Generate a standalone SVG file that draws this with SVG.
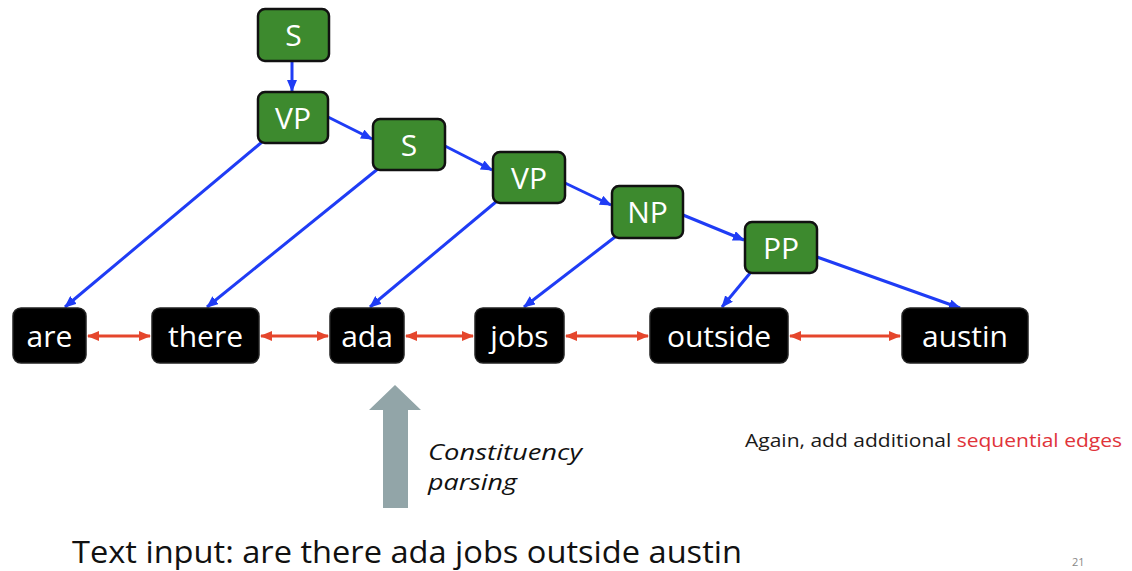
<svg xmlns="http://www.w3.org/2000/svg" width="1132" height="571" viewBox="0 0 1132 571">
  <style>
    .phrase { fill: #3d8a2e; stroke: #111; stroke-width: 2.5; }
    .word { fill: #000; stroke: #222; stroke-width: 1.5; }
    .lbl { font-family: "Open Sans", "Liberation Sans", sans-serif; font-size: 30px; fill: #fff; text-anchor: middle; }
    .tree { stroke: #1f3cf5; stroke-width: 3; fill: none; marker-end: url(#blueHead); }
    .seq { stroke: #e5462c; stroke-width: 3; fill: none; marker-start: url(#redTail); marker-end: url(#redHead); }
    .note { font-family: "Open Sans", "Liberation Sans", sans-serif; }
  </style>
  <defs>
    <marker id="blueHead" viewBox="0 0 12 10" refX="11" refY="5" markerWidth="12" markerHeight="10" markerUnits="userSpaceOnUse" orient="auto">
      <path d="M0,0 L12,5 L0,10 Z" fill="#1f3cf5"/>
    </marker>
    <marker id="redHead" viewBox="0 0 12 10" refX="11" refY="5" markerWidth="12" markerHeight="10" markerUnits="userSpaceOnUse" orient="auto">
      <path d="M0,0 L12,5 L0,10 Z" fill="#e5462c"/>
    </marker>
    <marker id="redTail" viewBox="0 0 12 10" refX="1" refY="5" markerWidth="12" markerHeight="10" markerUnits="userSpaceOnUse" orient="auto">
      <path d="M12,0 L0,5 L12,10 Z" fill="#e5462c"/>
    </marker>
  </defs>

  <rect width="1132" height="571" fill="#fff"/>

  <!-- connectors -->
  <g id="connectors">
    <!-- tree edges -->
    <line class="tree" x1="292" y1="62" x2="292" y2="91"/>
    <line class="tree" x1="328" y1="117" x2="372" y2="139"/>
    <line class="tree" x1="262" y1="142" x2="65" y2="307"/>
    <line class="tree" x1="379" y1="168" x2="207" y2="307"/>
    <line class="tree" x1="445" y1="146" x2="492" y2="170"/>
    <line class="tree" x1="497" y1="201" x2="370" y2="307"/>
    <line class="tree" x1="565" y1="183" x2="611" y2="205"/>
    <line class="tree" x1="615" y1="237" x2="524" y2="307"/>
    <line class="tree" x1="683" y1="215" x2="744" y2="240"/>
    <line class="tree" x1="751" y1="272" x2="722" y2="307"/>
    <line class="tree" x1="817" y1="257" x2="960" y2="308"/>
    <!-- sequential edges -->
    <line class="seq" x1="88" y1="336" x2="150" y2="336"/>
    <line class="seq" x1="261" y1="336" x2="328" y2="336"/>
    <line class="seq" x1="406" y1="336" x2="473" y2="336"/>
    <line class="seq" x1="566" y1="336" x2="648" y2="336"/>
    <line class="seq" x1="790" y1="336" x2="900" y2="336"/>
  </g>

  <!-- phrase nodes -->
  <g id="node-s1"><rect class="phrase" x="258" y="9" width="71" height="52" rx="7"/><text class="lbl" x="293.5" y="46">S</text></g>
  <g id="node-vp1"><rect class="phrase" x="258" y="92" width="70" height="51" rx="7"/><text class="lbl" x="293" y="129">VP</text></g>
  <g id="node-s2"><rect class="phrase" x="373" y="119" width="72" height="51" rx="7"/><text class="lbl" x="409" y="156">S</text></g>
  <g id="node-vp2"><rect class="phrase" x="493" y="152" width="72" height="51" rx="7"/><text class="lbl" x="529" y="189">VP</text></g>
  <g id="node-np"><rect class="phrase" x="612" y="186" width="71" height="52" rx="7"/><text class="lbl" x="647.5" y="223">NP</text></g>
  <g id="node-pp"><rect class="phrase" x="745" y="222" width="72" height="51" rx="7"/><text class="lbl" x="781" y="259">PP</text></g>

  <!-- word nodes -->
  <g id="word-are"><rect class="word" x="13" y="308" width="73" height="55" rx="8"/><text class="lbl" x="49.5" y="347">are</text></g>
  <g id="word-there"><rect class="word" x="152" y="308" width="107" height="55" rx="8"/><text class="lbl" x="205.5" y="347">there</text></g>
  <g id="word-ada"><rect class="word" x="330" y="308" width="74" height="55" rx="8"/><text class="lbl" x="367" y="347">ada</text></g>
  <g id="word-jobs"><rect class="word" x="475" y="308" width="89" height="55" rx="8"/><text class="lbl" x="519.5" y="347">jobs</text></g>
  <g id="word-outside"><rect class="word" x="650" y="308" width="138" height="55" rx="8"/><text class="lbl" x="719" y="347">outside</text></g>
  <g id="word-austin"><rect class="word" x="902" y="308" width="126" height="55" rx="8"/><text class="lbl" x="965" y="347">austin</text></g>

  <!-- parsing step -->
  <g id="parse-arrow">
    <polygon points="395,385 421,410 408,410 408,508 383,508 383,410 369,410" fill="#92a5a8"/>
    <text class="note" x="428" y="460" font-size="22" font-style="italic" fill="#111" textLength="154" lengthAdjust="spacingAndGlyphs">Constituency</text>
    <text class="note" x="428" y="490" font-size="22" font-style="italic" fill="#111" textLength="89" lengthAdjust="spacingAndGlyphs">parsing</text>
  </g>

  <text class="note" x="745" y="447" font-size="19" fill="#1a1a1a" textLength="377" lengthAdjust="spacingAndGlyphs">Again, add additional <tspan fill="#e0333a">sequential edges</tspan></text>

  <text class="note" x="72" y="563" font-size="31" fill="#111" textLength="670" lengthAdjust="spacingAndGlyphs">Text input: are there ada jobs outside austin</text>

  <text class="note" x="1072" y="566" font-size="11" fill="#888">21</text>
</svg>
